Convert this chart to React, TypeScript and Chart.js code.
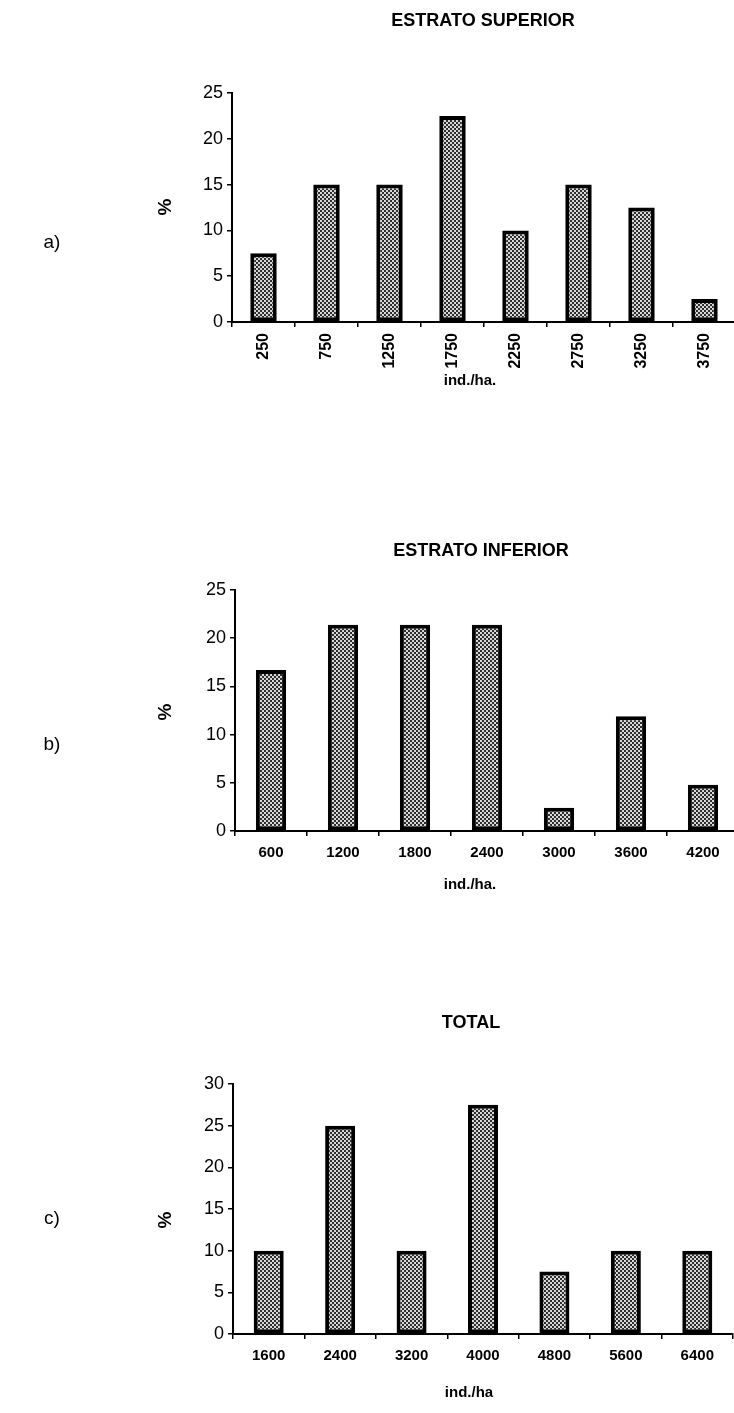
import React, { useRef, useEffect } from "react";
import { Chart, registerables } from "chart.js";

Chart.register(...registerables);

// densidad (ind./ha) y porcentaje por clase
const superiorLabels = ["250", "750", "1250", "1750", "2250", "2750", "3250", "3750"];
const superiorValues = [7.5, 15, 15, 22.5, 10, 15, 12.5, 2.5];

const inferiorLabels = ["600", "1200", "1800", "2400", "3000", "3600", "4200"];
const inferiorValues = [16.7, 21.4, 21.4, 21.4, 2.4, 11.9, 4.8];

const totalLabels = ["1600", "2400", "3200", "4000", "4800", "5600", "6400"];
const totalValues = [10, 25, 10, 27.5, 7.5, 10, 10];

const FONT = "'Liberation Sans', Arial, sans-serif";
const CANVAS_W = 742;

type TextItem = {
  text: string;
  x: number;
  y: number;
  size: number;
  bold?: boolean;
  rotate?: boolean;
};

type PanelProps = {
  top: number;
  height: number;
  labels: string[];
  values: number[];
  yMax: number;
  plotTop: number;
  plotBottom: number;
  plotLeft: number;
  plotRight: number;
  rotateTicks: boolean;
  texts: TextItem[];
};

// gray dotted fill like the old spreadsheet pattern
const makePattern = (): CanvasPattern | string => {
  const c = document.createElement("canvas");
  c.width = 4;
  c.height = 4;
  const g = c.getContext("2d");
  if (!g) return "#808080";
  g.fillStyle = "#2e2e2e";
  g.fillRect(0, 0, 4, 4);
  g.fillStyle = "#d8d8d8";
  g.fillRect(0, 0, 2, 2);
  g.fillRect(2, 2, 2, 2);
  return g.createPattern(c, "repeat") || "#808080";
};

const textPlugin = {
  id: "panelTexts",
  afterDraw(chart: any, _args: any, opts: any) {
    const ctx = chart.ctx;
    const items: TextItem[] = opts.items || [];
    items.forEach((t) => {
      ctx.save();
      ctx.fillStyle = "#000";
      ctx.font = `${t.bold ? "bold " : ""}${t.size}px ${FONT}`;
      ctx.textAlign = "center";
      ctx.textBaseline = "middle";
      ctx.translate(t.x, t.y);
      if (t.rotate) ctx.rotate(-Math.PI / 2);
      ctx.fillText(t.text, 0, 0);
      ctx.restore();
    });
  },
};

const Panel: React.FC<PanelProps> = (p) => {
  const canvasRef = useRef<HTMLCanvasElement | null>(null);

  useEffect(() => {
    if (!canvasRef.current) return;
    const ctx = canvasRef.current.getContext("2d");
    if (!ctx) return;

    const chart = new Chart(ctx, {
      type: "bar",
      data: {
        labels: p.labels,
        datasets: [
          {
            data: p.values,
            backgroundColor: makePattern() as any,
            borderColor: "#000",
            borderWidth: 4,
            borderSkipped: false,
            barPercentage: 0.42,
            categoryPercentage: 1,
          },
        ],
      },
      options: {
        animation: false,
        responsive: false,
        devicePixelRatio: 1,
        layout: {
          padding: { top: p.plotTop, right: CANVAS_W - p.plotRight, left: 0, bottom: 0 },
        },
        plugins: {
          legend: { display: false },
          tooltip: { enabled: false },
          panelTexts: { items: p.texts },
        } as any,
        scales: {
          x: {
            grid: {
              offset: true,
              drawOnChartArea: false,
              drawTicks: true,
              tickLength: 5,
              color: "#000",
              lineWidth: 1.5,
            },
            border: { display: true, color: "#000", width: 2 },
            ticks: {
              color: "#000",
              autoSkip: false,
              minRotation: p.rotateTicks ? 90 : 0,
              maxRotation: p.rotateTicks ? 90 : 0,
              padding: p.rotateTicks ? 6 : 8,
              font: { family: FONT, weight: "bold", size: p.rotateTicks ? 16 : 15 },
            },
            afterFit: (scale: any) => {
              scale.height = p.height - p.plotBottom;
            },
          },
          y: {
            min: 0,
            max: p.yMax,
            grid: {
              drawOnChartArea: false,
              drawTicks: true,
              tickLength: 5,
              color: "#000",
              lineWidth: 1.5,
            },
            border: { display: true, color: "#000", width: 2 },
            ticks: {
              stepSize: 5,
              color: "#000",
              padding: 4,
              font: { family: FONT, size: 18 },
            },
            afterFit: (scale: any) => {
              scale.width = p.plotLeft;
            },
          },
        },
      },
      plugins: [textPlugin],
    });

    return () => {
      chart.destroy();
    };
  }, [p]);

  return (
    <canvas
      ref={canvasRef}
      width={CANVAS_W}
      height={p.height}
      style={{ position: "absolute", left: 0, top: p.top, width: CANVAS_W, height: p.height }}
    />
  );
};

const App: React.FC = () => {
  return (
    <div
      style={{
        position: "absolute",
        left: 0,
        top: 0,
        width: 734,
        height: 1413,
        overflow: "hidden",
        background: "#fff",
      }}
    >
      <Panel
        top={0}
        height={400}
        labels={superiorLabels}
        values={superiorValues}
        yMax={25}
        plotTop={93}
        plotBottom={322}
        plotLeft={232}
        plotRight={736}
        rotateTicks={true}
        texts={[
          { text: "ESTRATO SUPERIOR", x: 483, y: 21, size: 18, bold: true },
          { text: "%", x: 166, y: 207, size: 19, bold: true, rotate: true },
          { text: "a)", x: 52, y: 243, size: 19 },
          { text: "ind./ha.", x: 470, y: 381, size: 15, bold: true },
        ]}
      />
      <Panel
        top={480}
        height={420}
        labels={inferiorLabels}
        values={inferiorValues}
        yMax={25}
        plotTop={110}
        plotBottom={351}
        plotLeft={235}
        plotRight={739}
        rotateTicks={false}
        texts={[
          { text: "ESTRATO INFERIOR", x: 481, y: 71, size: 18, bold: true },
          { text: "%", x: 166, y: 232, size: 19, bold: true, rotate: true },
          { text: "b)", x: 52, y: 265, size: 19 },
          { text: "ind./ha.", x: 470, y: 405, size: 15, bold: true },
        ]}
      />
      <Panel
        top={960}
        height={453}
        labels={totalLabels}
        values={totalValues}
        yMax={30}
        plotTop={124}
        plotBottom={374}
        plotLeft={233}
        plotRight={733}
        rotateTicks={false}
        texts={[
          { text: "TOTAL", x: 471, y: 63, size: 18, bold: true },
          { text: "%", x: 166, y: 260, size: 19, bold: true, rotate: true },
          { text: "c)", x: 52, y: 259, size: 19 },
          { text: "ind./ha", x: 469, y: 433, size: 15, bold: true },
        ]}
      />
    </div>
  );
};

export default App;
